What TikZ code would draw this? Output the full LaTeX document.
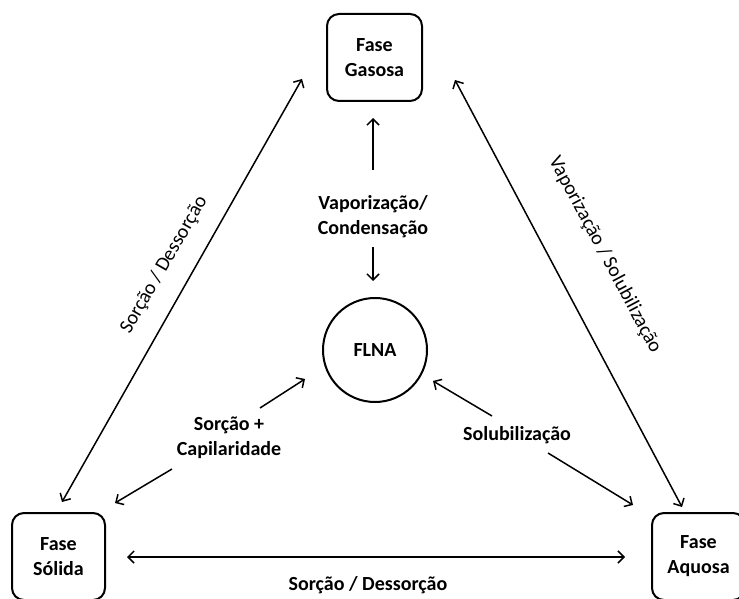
\documentclass[tikz,border=0pt]{standalone}
\usepackage{fontspec}
\setmainfont{Carlito}
\usetikzlibrary{arrows.meta}
\begin{document}
\begin{tikzpicture}[x=1pt,y=-1pt,
  txt/.style={font=\fontsize{20}{24}\selectfont},
  phase/.style={draw, line width=2pt, rounded corners=12pt, minimum width=93pt, minimum height=87pt, align=center, font=\fontsize{20}{25}\selectfont\bfseries, inner sep=0pt},
  lbl/.style={align=center, font=\fontsize{20}{25}\selectfont\bfseries, inner sep=2pt},
  rlbl/.style={align=center, font=\fontsize{20}{24}\selectfont, inner sep=0pt},
  tip/.style={Straight Barb[length=6pt,width=12pt]},
  arr/.style={line width=1.5pt, -{Straight Barb[length=6pt,width=12pt]}},
  darr/.style={line width=1.5pt, {Straight Barb[length=6pt,width=12pt]}-{Straight Barb[length=6pt,width=12pt]}}]
\useasboundingbox (0,0) rectangle (739,599);
\clip (0,0) rectangle (739,599);
% phases
\node[phase, minimum width=95pt] (G) at (374.5,57.5) {Fase\\Gasosa};
\node[phase] (S) at (58.5,556.5) {Fase\\Sólida};
\node[phase] (A) at (698.5,556.5) {Fase\\Aquosa};
\node[circle, draw, line width=2pt, minimum size=104pt, font=\fontsize{20}{24}\selectfont\bfseries] (F) at (375,350) {FLNA};
% labels
\node[lbl] (V) at (373,217) {Vaporização/\\Condensação};
\node[lbl] (C) at (229,438) {Sorção +\\Capilaridade};
\node[lbl] (Sl) at (517,435) {Solubilização};
\node[lbl] (B) at (368,585) {Sorção / Dessorção};
\node[rlbl, rotate=60] (L) at (164,265) {Sorção / Dessorção};
\node[rlbl, rotate=-62] (R) at (605,255) {Vaporização / Solubilização};
% coordinates
\coordinate (v1) at (373,170);
\coordinate (v1t) at (373,118);
\coordinate (v2) at (373,247);
\coordinate (v2t) at (373,281);
\coordinate (c1) at (260,408);
\coordinate (c1t) at (305,379);
\coordinate (c2) at (172,469);
\coordinate (c2t) at (115,503);
\coordinate (s1) at (492,416);
\coordinate (s1t) at (433,381);
\coordinate (s2) at (548,453);
\coordinate (s2t) at (633,505);
\coordinate (lg) at (302,79);
\coordinate (ls) at (62,502);
\coordinate (rg) at (455,80);
\coordinate (ra) at (682,507);
\coordinate (bs) at (127,557);
\coordinate (ba) at (625,557);
% connectors
\draw[arr] (v1) -- (v1t);
\draw[arr] (v2) -- (v2t);
\draw[arr] (c1) -- (c1t);
\draw[arr] (c2) -- (c2t);
\draw[arr] (s1) -- (s1t);
\draw[arr] (s2) -- (s2t);
\draw[darr] (ls) -- (lg);
\draw[darr] (rg) -- (ra);
\draw[darr] (bs) -- (ba);
\end{tikzpicture}
\end{document}
